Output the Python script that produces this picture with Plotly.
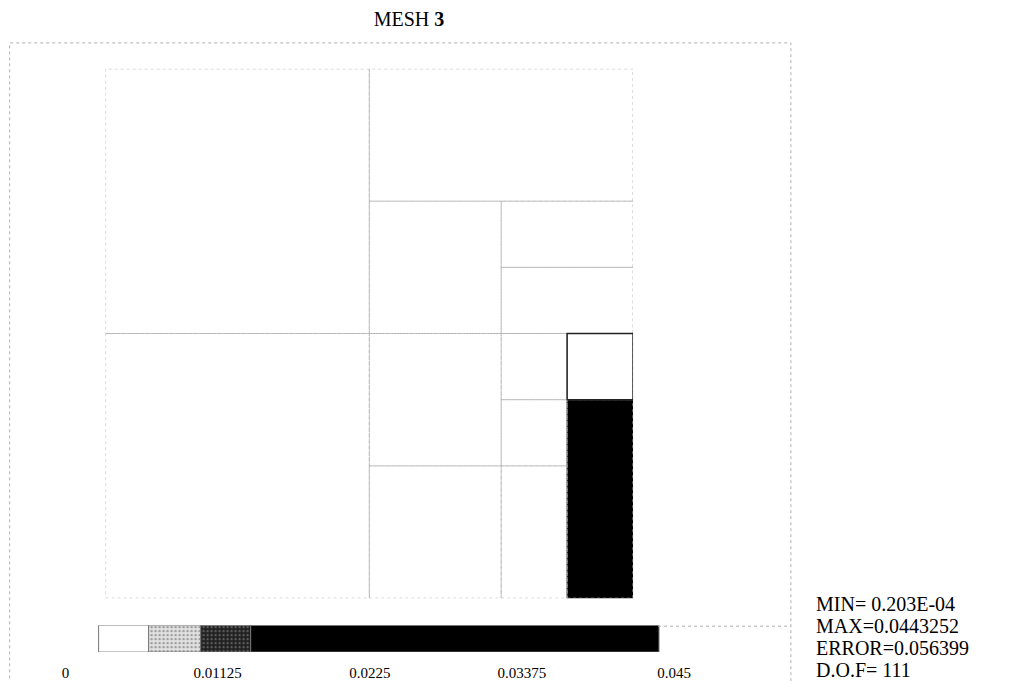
import plotly.graph_objects as go

# ---- mesh cells (unit square), left/right/bottom/top and element value ----
cell_x0 = [0.0, 0.0, 0.5, 0.5, 0.75, 0.75, 0.5, 0.5, 0.75, 0.75, 0.75, 0.875, 0.875]
cell_x1 = [0.5, 0.5, 1.0, 0.75, 1.0, 1.0, 0.75, 0.75, 0.875, 0.875, 0.875, 1.0, 1.0]
cell_y0 = [0.5, 0.0, 0.75, 0.5, 0.625, 0.5, 0.25, 0.0, 0.375, 0.25, 0.0, 0.375, 0.0]
cell_y1 = [1.0, 0.5, 1.0, 0.75, 0.75, 0.625, 0.5, 0.25, 0.5, 0.375, 0.25, 0.5, 0.375]
cell_val = [0.0001, 0.0001, 0.0001, 0.0002, 0.0003, 0.0004, 0.0003, 0.0002,
            0.0010, 0.0012, 0.0008, 0.0040, 0.0443252]

# ---- colour scale bands (value edges) ----
band_edges = [0.00244, 0.00614, 0.00999, 0.01369, 0.04389]
band_colors = ["#ffffff", "#dcdcdc", "#333333", "#000000"]
tick_vals = [0, 0.01125, 0.0225, 0.03375, 0.045]
tick_text = ["0", "0.01125", "0.0225", "0.03375", "0.045"]

stats = ["MIN= 0.203E-04", "MAX=0.0443252", "ERROR=0.056399", "D.O.F= 111"]

OFF = 8                      # page body margin
W, H = 1018 - 2 * OFF, 689 - 2 * OFF
SERIF = "Liberation Serif, Times New Roman, serif"


def color_for(v):
    c = band_colors[0]
    for i in range(len(band_colors)):
        if v >= band_edges[i] - 1e-12 or i == 0:
            c = band_colors[i]
    return c


fig = go.Figure()

# filled cells
for x0, x1, y0, y1, v in zip(cell_x0, cell_x1, cell_y0, cell_y1, cell_val):
    fc = color_for(v)
    if fc == "#ffffff":
        continue
    fig.add_trace(go.Scatter(
        x=[x0, x1, x1, x0, x0], y=[y0, y0, y1, y1, y0], mode="lines",
        fill="toself", fillcolor=fc, line=dict(color="#000000", width=1),
        hoverinfo="skip", showlegend=False, xaxis="x", yaxis="y"))

# mesh edges (faint dotted)
for x0, x1, y0, y1, v in zip(cell_x0, cell_x1, cell_y0, cell_y1, cell_val):
    fig.add_trace(go.Scatter(
        x=[x0, x1, x1, x0, x0], y=[y0, y0, y1, y1, y0], mode="lines",
        line=dict(color="#b4b4b4", width=1, dash="dot"),
        hoverinfo="skip", showlegend=False, xaxis="x", yaxis="y"))

# cell next to the peak element outlined solid
i_nb = 11
x0, x1, y0, y1 = cell_x0[i_nb], cell_x1[i_nb], cell_y0[i_nb], cell_y1[i_nb]
fig.add_trace(go.Scatter(
    x=[x0, x1, x1, x0, x0], y=[y0, y0, y1, y1, y0], mode="lines",
    line=dict(color="#222222", width=1.5),
    hoverinfo="skip", showlegend=False, xaxis="x", yaxis="y"))

# legend colour bar (stacked horizontal bar)
for i, col in enumerate(band_colors):
    pat = None
    if i == 1:
        pat = dict(shape=".", bgcolor="#e4e4e4", fgcolor="#555555", size=4, solidity=0.35)
    elif i == 2:
        pat = dict(shape=".", bgcolor="#1e1e1e", fgcolor="#9a9a9a", size=4, solidity=0.3)
    fig.add_trace(go.Bar(
        orientation="h", y=[0.5], base=[band_edges[i]],
        x=[band_edges[i + 1] - band_edges[i]], width=[1.0],
        marker=dict(color=col, line=dict(color="#777777", width=1),
                    pattern=pat if pat else None),
        hoverinfo="skip", showlegend=False, xaxis="x2", yaxis="y2"))


# reference pixels -> paper (with small horizontal calibration)
def px(p):
    q = (p - 3.5) / 0.98
    return (q - OFF) / W


def py(p):
    return (H - (p - OFF)) / H


fig.update_layout(
    width=W, height=H,
    margin=dict(l=0, r=0, t=0, b=0),
    paper_bgcolor="white", plot_bgcolor="rgba(0,0,0,0)",
    font=dict(family=SERIF, color="#000000"),
    barmode="overlay",
    xaxis=dict(domain=[px(105), px(633)], range=[0, 1], visible=False,
               fixedrange=True),
    yaxis=dict(domain=[py(600), py(69)], range=[0, 1], visible=False,
               fixedrange=True),
    xaxis2=dict(domain=[px(65), px(674)], range=[0, 0.045], anchor="y2",
                tickvals=tick_vals, ticktext=tick_text, showgrid=False,
                zeroline=False, showline=False, ticks="outside", ticklen=7,
                tickcolor="rgba(0,0,0,0)", tickfont=dict(size=15, family=SERIF)),
    yaxis2=dict(domain=[py(654), py(627)], range=[0, 1], visible=False,
                fixedrange=True, anchor="x2"),
    title=dict(text="MESH <b>3</b>", x=(409 - OFF) / W, xanchor="center",
               y=py(19), yanchor="middle",
               font=dict(size=20, family=SERIF)),
    showlegend=False,
)

# faint outer frame
fig.add_shape(type="rect", xref="paper", yref="paper",
              x0=px(9), x1=px(791), y0=py(700), y1=py(43),
              line=dict(color="#b0b0b0", width=1, dash="dot"), layer="below")
fig.add_shape(type="line", xref="paper", yref="paper",
              x0=px(658), x1=px(791), y0=py(628), y1=py(628),
              line=dict(color="#b0b0b0", width=1, dash="dot"))

for k, s in enumerate(stats):
    fig.add_annotation(text=s, xref="paper", yref="paper",
                       x=px(814), y=py(606 + 22 * k), xanchor="left",
                       yanchor="middle", showarrow=False,
                       font=dict(size=20, family=SERIF, color="#000000"))

fig.write_html("out.html")
